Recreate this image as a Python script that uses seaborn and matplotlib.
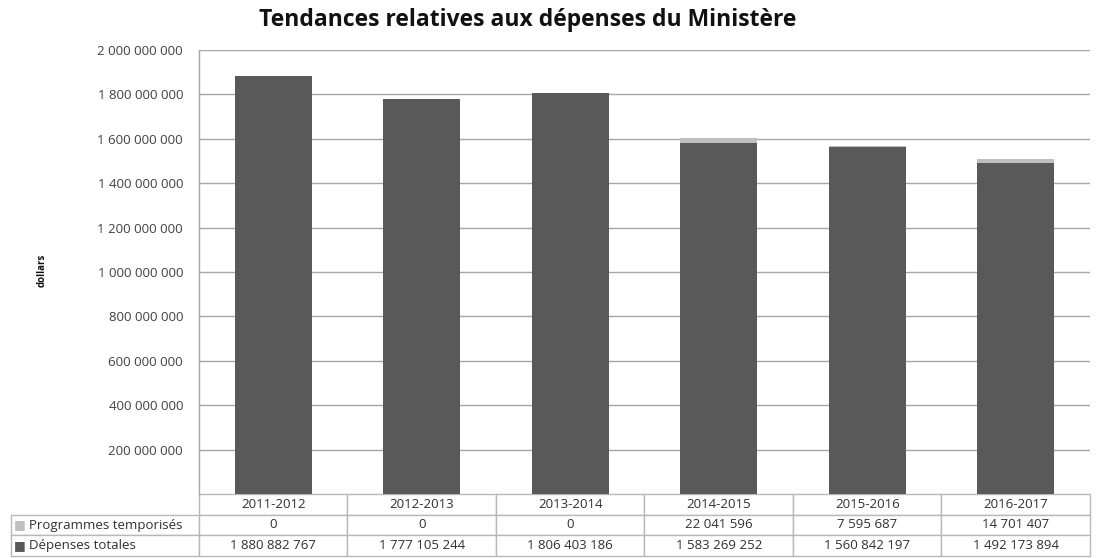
import matplotlib
matplotlib.use("Agg")
import matplotlib.pyplot as plt
import seaborn as sns
from matplotlib.ticker import FuncFormatter

# Data
years = ["2011-2012", "2012-2013", "2013-2014", "2014-2015", "2015-2016", "2016-2017"]
depenses_totales = [1880882767, 1777105244, 1806403186, 1583269252, 1560842197, 1492173894]
programmes_temporises = [0, 0, 0, 22041596, 7595687, 14701407]
row_names = ["Programmes temporisés", "Dépenses totales"]

dark = "#595959"
light = "#BFBFBF"
grid_c = "#A6A6A6"
text_c = "#404040"

sns.set_style("white")
plt.rcParams["font.family"] = ["Open Sans", "DejaVu Sans"]

fig = plt.figure(figsize=(11.11, 5.58), dpi=100)
ax = fig.add_axes([199 / 1111, 1 - 494 / 558, 891 / 1111, 444 / 558])

# stacked bars: total first (light), then the base series (dark) over it
stack_top = [d + p for d, p in zip(depenses_totales, programmes_temporises)]
sns.barplot(x=years, y=stack_top, color=light, saturation=1, width=0.52,
            linewidth=0, ax=ax, zorder=3)
sns.barplot(x=years, y=depenses_totales, color=dark, saturation=1, width=0.52,
            linewidth=0, ax=ax, zorder=4)

ax.set_ylim(0, 2000000000)
ax.set_yticks(range(200000000, 2000000001, 200000000))
ax.yaxis.set_major_formatter(FuncFormatter(lambda v, p: f"{int(v):,}".replace(",", " ")))
ax.tick_params(axis="y", labelsize=9.5, labelcolor=text_c, length=0, pad=11.5)
ax.tick_params(axis="x", bottom=False, labelbottom=False)
ax.yaxis.grid(True, color=grid_c, lw=1, zorder=0)
ax.set_axisbelow(True)
ax.set_xlabel("")
ax.set_ylabel("")
for s in ["top", "right", "bottom"]:
    ax.spines[s].set_visible(False)
ax.spines["left"].set_color(grid_c)
ax.spines["left"].set_linewidth(1)

# data table under the chart (first column holds the series names)
def fmt(v):
    return f"{v:,}".replace(",", " ")

cells = [["    " + row_names[0]] + [fmt(v) for v in programmes_temporises],
         ["    " + row_names[1]] + [fmt(v) for v in depenses_totales]]
lab_w = 188 / 891
tbl = ax.table(cellText=cells, colLabels=[""] + years,
               colWidths=[lab_w] + [1 / 6] * 6, cellLoc="center",
               bbox=[-lab_w, -62 / 444, 1 + lab_w, 62 / 444])
tbl.auto_set_font_size(False)
for (r, c), cell in tbl.get_celld().items():
    cell.set_edgecolor("#B8B8B8")
    cell.set_linewidth(1)
    cell.get_text().set_fontsize(9.5)
    cell.get_text().set_color("#303030")
    if c == 0:
        cell.get_text().set_ha("left")
        cell._loc = "left"
        cell.PAD = 0.02
    if r == 0 and c == 0:
        cell.set_edgecolor("none")
        cell.visible_edges = ""

# legend keys in the row labels
fig.text(14 / 1111, 1 - 525 / 558, "■", color=light, fontsize=9, va="center",
         family="DejaVu Sans")
fig.text(14 / 1111, 1 - 546 / 558, "■", color=dark, fontsize=9, va="center",
         family="DejaVu Sans")

fig.text(0.475, 1 - 20 / 558, "Tendances relatives aux dépenses du Ministère",
         ha="center", va="center", fontsize=16.5, fontweight="bold", color="#111111")
fig.text(42 / 1111, 1 - 270 / 558, "dollars", rotation=90, ha="center", va="center",
         fontsize=7, fontweight="bold", color="#111111")

fig.savefig("out.png", dpi=100)
